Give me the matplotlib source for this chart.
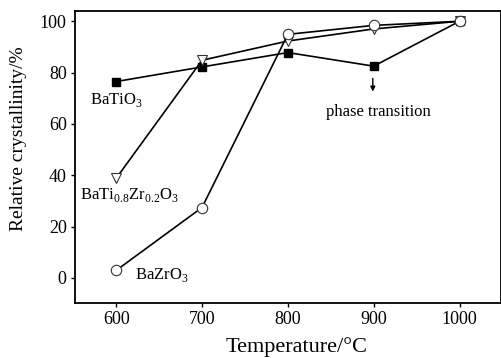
import matplotlib
matplotlib.use("Agg")
import matplotlib.pyplot as plt

plt.rcParams['font.family'] = ['Liberation Serif', 'DejaVu Serif']
plt.rcParams['mathtext.fontset'] = 'custom'
plt.rcParams['mathtext.rm'] = 'Liberation Serif'

# Data
temps = [600, 700, 800, 900, 1000]
batio3 = [76.5, 82.2, 87.8, 82.5, 100]
batizr = [38.8, 84.8, 92.3, 97.0, 100]
bazro3 = [2.9, 27.4, 94.9, 98.4, 100]

W, H = 502, 358
fig = plt.figure(figsize=(W/100, H/100), dpi=100)
ax = fig.add_axes([75/W, 1 - 302.7/H, (500.7-75)/W, (302.7-11)/H])

ax.plot(temps, batio3, '-', color='black', lw=1.2, marker='s', ms=6,
        mfc='black', mec='black', zorder=3)
ax.plot(temps, batizr, '-', color='black', lw=1.2, marker='v', ms=7.5,
        mfc='white', mec='#333333', mew=0.8, zorder=3)
ax.plot(temps, bazro3, '-', color='black', lw=1.2, marker='o', ms=7.5,
        mfc='white', mec='#333333', mew=0.8, zorder=4)

ax.set_xlim(552, 1048)
ax.set_ylim(-9.7, 104)
ax.set_xticks(temps)
ax.set_yticks([0, 20, 40, 60, 80, 100])
ax.tick_params(direction='out', length=3, width=1, labelsize=13, pad=3)
for s in ax.spines.values():
    s.set_linewidth(1.3)

# axis titles placed like the reference (slightly off-centre)
fig.text(297/W, 1 - 347/H, 'Temperature/°C', fontsize=16, ha='center', va='center')
fig.text(19/W, 1 - 139/H, 'Relative crystallinity/%', fontsize=14,
         rotation=90, ha='center', va='center')

ax.text(570, 69.3, r'BaTiO$_3$', fontsize=12, ha='left', va='center')
ax.text(558, 32.2, r'BaTi$_{0.8}$Zr$_{0.2}$O$_3$', fontsize=12, ha='left', va='center')
ax.text(622, 1.0, r'BaZrO$_3$', fontsize=12, ha='left', va='center')
ax.text(845, 64.5, 'phase transition', fontsize=12, ha='left', va='center')
ax.annotate('', xy=(899, 71.5), xytext=(899, 78.8),
            arrowprops=dict(arrowstyle='-|>', color='black', lw=1,
                            mutation_scale=7))

fig.savefig('out.png', dpi=100)
